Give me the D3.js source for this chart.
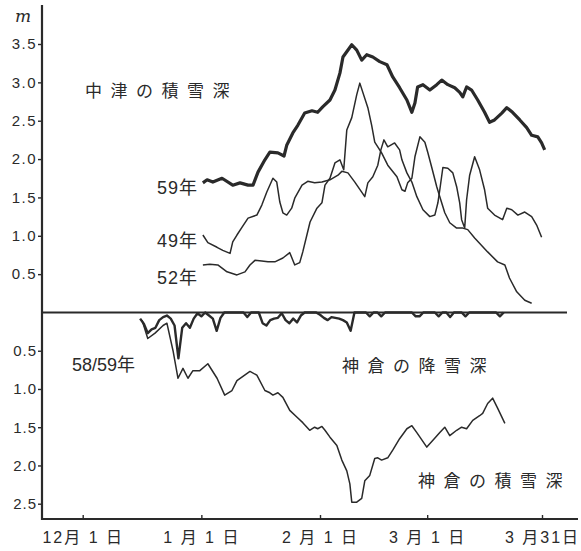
<!DOCTYPE html>
<html>
<head>
<meta charset="utf-8">
<script src="https://cdn.jsdelivr.net/npm/d3@7/dist/d3.min.js"></script>
<style>
  html, body { margin: 0; padding: 0; background: #ffffff; }
  svg { display: block; }
</style>
</head>
<body>
<script>
// ---------------- DATA ----------------
// x = days since 1 Dec; values in metres
const xTickDays   = [0, 31, 62, 90, 120];
const xTickLabels = ["12月 1 日", "1 月 1 日", "2 月 1 日", "3 月 1 日", "3 月31日"];
const yTopTicks   = [0.5, 1.0, 1.5, 2.0, 2.5, 3.0, 3.5];
const yBotTicks   = [0.5, 1.0, 1.5, 2.0, 2.5];

// 中津の積雪深 1959 (thick)
const nakatsu59 = [
  [31.4,1.69],[32.5,1.73],[34.0,1.70],[36.4,1.75],[39.2,1.66],[41.1,1.69],[43.2,1.66],[44.5,1.66],
  [45.8,1.83],[47.6,1.99],[48.9,2.09],[51.0,2.08],[52.6,2.04],[53.3,2.18],[54.9,2.34],[56.2,2.44],
  [58.0,2.60],[59.9,2.63],[61.4,2.61],[62.7,2.68],[64.6,2.77],[65.9,2.90],[67.2,3.12],[68.0,3.33],
  [70.3,3.49],[71.6,3.42],[72.9,3.29],[74.2,3.36],[75.8,3.33],[77.6,3.27],[79.5,3.23],[81.0,3.07],
  [82.8,2.93],[84.7,2.77],[86.0,2.61],[86.8,2.73],[87.5,2.94],[88.9,2.97],[90.7,2.90],[92.5,2.97],
  [93.8,3.03],[95.4,2.97],[97.2,2.93],[98.5,2.87],[99.3,2.81],[100.3,2.94],[101.6,2.90],[103.2,2.77],
  [105.0,2.61],[106.3,2.48],[107.6,2.51],[109.5,2.60],[110.8,2.67],[112.3,2.61],[114.2,2.51],
  [116.0,2.41],[117.3,2.31],[118.9,2.29],[119.9,2.21],[120.7,2.12]
];
// 中津の積雪深 1949
const nakatsu49 = [
  [31.4,1.01],[32.7,0.91],[35.1,0.85],[36.6,0.81],[38.5,0.77],[39.2,0.92],[40.3,1.01],[41.6,1.11],
  [43.2,1.23],[45.5,1.27],[46.8,1.40],[48.1,1.57],[49.7,1.75],[50.7,1.70],[51.5,1.44],[52.3,1.30],
  [53.3,1.27],[54.6,1.36],[55.4,1.49],[57.3,1.66],[58.8,1.71],[60.6,1.69],[62.5,1.70],[64.6,1.73],
  [66.7,1.79],[67.7,1.84],[69.3,1.82],[71.1,1.70],[73.7,1.51],[74.5,1.69],[75.8,1.77],[77.1,1.92],
  [77.9,2.12],[78.7,2.25],[79.7,2.16],[81.5,2.21],[82.8,2.12],[83.4,1.99],[84.7,1.82],[86.0,1.70],
  [87.3,1.51],[88.9,1.34],[90.7,1.25],[92.0,1.27],[92.8,1.43],[93.3,1.60],[94.1,1.89],[95.4,1.88],
  [96.7,1.82],[97.7,1.64],[98.5,1.43],[99.0,1.21],[99.8,1.10],[100.3,1.47],[101.1,1.79],[102.4,2.03],
  [103.7,1.86],[105.0,1.60],[105.8,1.36],[107.6,1.27],[109.7,1.21],[110.8,1.36],[112.1,1.34],
  [113.7,1.27],[115.5,1.31],[117.3,1.25],[118.6,1.14],[119.9,0.98]
];
// 中津の積雪深 1952
const nakatsu52 = [
  [31.4,0.62],[33.2,0.63],[35.3,0.62],[37.7,0.53],[40.3,0.49],[42.4,0.53],[43.7,0.62],[45.0,0.68],
  [46.8,0.67],[48.4,0.66],[50.2,0.66],[52.3,0.71],[54.1,0.78],[55.4,0.62],[56.7,0.65],[57.5,0.79],
  [59.4,1.18],[61.2,1.36],[62.5,1.43],[63.3,1.66],[64.6,1.75],[65.9,1.95],[67.2,1.99],[68.2,1.86],
  [69.0,2.38],[70.3,2.54],[71.6,2.84],[72.4,2.99],[74.5,2.67],[75.5,2.44],[76.3,2.22],[78.1,2.08],
  [79.7,1.92],[82.1,1.77],[83.4,1.60],[84.2,1.58],[84.9,1.69],[86.0,1.75],[86.8,2.03],[88.1,2.29],
  [89.4,2.22],[90.2,2.08],[91.2,1.89],[92.5,1.64],[93.3,1.51],[94.6,1.30],[95.9,1.17],[97.7,1.10],
  [99.3,1.10],[100.6,1.08],[102.4,0.97],[105.8,0.79],[108.4,0.66],[110.3,0.62],[111.5,0.45],
  [113.4,0.27],[115.5,0.16],[117.3,0.12]
];
// 神倉の降雪深 1958/59, daily from day 15
const kamikuraFallStart = 15;
const kamikuraFall = [
  0.08,0.15,0.27,0.22,0.20,0.10,0.06,0.04,0.08,0.17,0.60,0.20,0.14,0.20,0.08,0.01,0.05,0.00,0.04,0.08,
  0.24,0.07,0.00,0.00,0.00,0.00,0.00,0.00,0.06,0.00,0.00,0.00,0.14,0.17,0.10,0.08,0.07,0.01,0.10,0.14,
  0.08,0.13,0.04,0.00,0.00,0.00,0.00,0.03,0.07,0.10,0.06,0.07,0.08,0.10,0.13,0.24,0.00,0.00,0.00,0.00,
  0.05,0.00,0.00,0.05,0.00,0.00,0.00,0.00,0.00,0.00,0.00,0.00,0.05,0.05,0.00,0.00,0.00,0.00,0.05,0.00,
  0.00,0.06,0.00,0.00,0.00,0.05,0.00,0.00,0.00,0.00,0.00,0.00,0.00,0.00,0.05,0.00
];
// 神倉の積雪深 1958/59
const kamikuraDepth = [
  [15.5,0.10],[17.0,0.34],[18.9,0.27],[21.0,0.17],[22.0,0.14],[23.6,0.50],[24.9,0.86],[26.2,0.73],
  [27.5,0.86],[28.8,0.76],[30.6,0.76],[32.7,0.67],[35.1,0.86],[37.1,1.08],[39.0,1.02],[40.3,0.89],
  [43.7,0.77],[45.5,0.82],[47.6,1.02],[48.9,1.05],[49.7,1.08],[51.0,1.05],[52.3,1.11],[54.1,1.28],
  [56.0,1.37],[57.5,1.44],[59.3,1.54],[60.6,1.50],[61.4,1.52],[62.5,1.49],[63.3,1.54],[64.6,1.63],
  [66.4,1.74],[67.7,1.93],[69.0,2.07],[69.8,2.24],[70.3,2.48],[71.6,2.48],[72.9,2.43],[73.7,2.20],
  [75.0,2.13],[76.3,1.91],[77.1,1.90],[78.1,1.93],[79.7,1.90],[81.0,1.80],[82.8,1.65],[84.7,1.52],
  [86.0,1.48],[87.3,1.57],[89.9,1.76],[91.5,1.67],[93.3,1.57],[94.6,1.50],[95.9,1.61],[97.7,1.54],
  [99.0,1.50],[100.3,1.52],[101.9,1.41],[103.7,1.35],[104.5,1.32],[105.8,1.19],[107.1,1.12],
  [108.4,1.25],[110.3,1.45]
];

// ---------------- LAYOUT ----------------
const W = 581, H = 551;
const axisX = 42, axisTop = 5, axisBottomY = 519, axisRight = 578, baseRight = 567;
const ink = "#2a2a2a";

const svg = d3.select("body").append("svg").attr("width", W).attr("height", H);
svg.append("rect").attr("width", W).attr("height", H).attr("fill", "#ffffff");

const x = d3.scaleLinear().domain([0, 120]).range([82.7, 542]);
const yTop = d3.scaleLinear().domain([0, 3.5]).range([312.5, 44]);
const yBot = d3.scaleLinear().domain([0, 2.5]).range([312.5, 503.7]);

const numFont = "'Liberation Sans', 'Noto Sans CJK JP', sans-serif";
const cjkFont = "'Noto Sans CJK JP', sans-serif";

// Axis frame
svg.append("line").attr("x1", axisX).attr("x2", axisX).attr("y1", axisTop).attr("y2", axisBottomY + 1)
  .attr("stroke", ink).attr("stroke-width", 2.2);
svg.append("line").attr("x1", axisX - 1).attr("x2", axisRight).attr("y1", axisBottomY).attr("y2", axisBottomY)
  .attr("stroke", ink).attr("stroke-width", 2.2);
// zero baseline
svg.append("line").attr("x1", axisX).attr("x2", baseRight).attr("y1", yTop(0)).attr("y2", yTop(0))
  .attr("stroke", ink).attr("stroke-width", 1.8);

function styleAxis(g, fs, ls) {
  g.select(".domain").remove();
  g.selectAll(".tick line").attr("stroke", ink).attr("stroke-width", 1.4);
  g.selectAll(".tick text").attr("fill", ink).attr("font-size", fs)
    .attr("font-family", numFont).attr("letter-spacing", ls);
}

const gTop = svg.append("g").attr("transform", `translate(${axisX},0)`)
  .call(d3.axisLeft(yTop).tickValues(yTopTicks).tickFormat(d3.format(".1f")).tickSize(4).tickPadding(1));
styleAxis(gTop, 15, "1.5px");
const gBot = svg.append("g").attr("transform", `translate(${axisX},0)`)
  .call(d3.axisLeft(yBot).tickValues(yBotTicks).tickFormat(d3.format(".1f")).tickSize(4).tickPadding(1));
styleAxis(gBot, 15, "1px");

const gX = svg.append("g").attr("transform", `translate(0,${axisBottomY})`)
  .call(d3.axisBottom(x).tickValues(xTickDays).tickFormat((d, i) => xTickLabels[i]).tickSize(-4).tickPadding(13));
styleAxis(gX, 16, "2px");
gX.selectAll(".tick text").attr("font-family", numFont);

// Lines
const line = d3.line().x(d => x(d[0])).y(d => yTop(d[1]));
const lineB = d3.line().x(d => x(d[0])).y(d => yBot(d[1]));

svg.append("path").datum(nakatsu52).attr("d", line).attr("fill", "none")
  .attr("stroke", ink).attr("stroke-width", 1.5).attr("stroke-linejoin", "round");
svg.append("path").datum(nakatsu49).attr("d", line).attr("fill", "none")
  .attr("stroke", ink).attr("stroke-width", 1.5).attr("stroke-linejoin", "round");
svg.append("path").datum(nakatsu59).attr("d", line).attr("fill", "none")
  .attr("stroke", ink).attr("stroke-width", 3.2).attr("stroke-linejoin", "round");

const fallPts = kamikuraFall.map((v, i) => [kamikuraFallStart + i, v]);
svg.append("path").datum(fallPts).attr("d", lineB).attr("fill", "none")
  .attr("stroke", ink).attr("stroke-width", 2.4).attr("stroke-linejoin", "round");
svg.append("path").datum(kamikuraDepth).attr("d", lineB).attr("fill", "none")
  .attr("stroke", ink).attr("stroke-width", 1.5).attr("stroke-linejoin", "round");

// Texts
function label(txt, xx, yy, fs, ls, family) {
  svg.append("text").attr("x", xx).attr("y", yy).text(txt)
    .attr("font-size", fs).attr("letter-spacing", ls || "0px")
    .attr("font-family", family || cjkFont).attr("fill", ink)
    .attr("dominant-baseline", "central");
}
svg.append("text").attr("x", 15).attr("y", 22).text("m")
  .attr("font-family", "'DejaVu Serif', 'Liberation Serif', serif").attr("font-style", "italic")
  .attr("font-size", 17).attr("fill", ink);

label("中津の積雪深", 85, 89, 17, "8.5px");
label("神倉の降雪深", 342, 364, 17, "8.5px");
label("神倉の積雪深", 418, 479, 17, "8.5px");
label("59年", 157, 188, 18, "1px", numFont);
label("49年", 157, 241, 18, "1px", numFont);
label("52年", 157, 278, 18, "1px", numFont);
label("58/59年", 72, 365, 18, "0px", numFont);
</script>
</body>
</html>
